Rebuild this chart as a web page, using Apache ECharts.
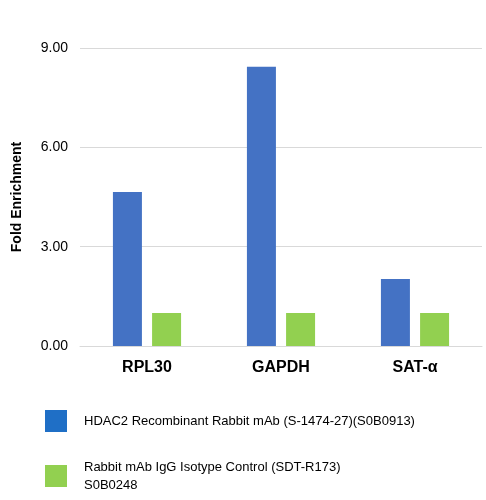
<!DOCTYPE html>
<html><head><meta charset="utf-8">
<script src="https://cdn.jsdelivr.net/npm/echarts@6/dist/echarts.min.js"></script>
<style>html,body{margin:0;background:#fff}#c{width:486px;height:500px}</style>
</head><body><div id="c"></div>
<script>
const categories = ['RPL30', 'GAPDH', 'SAT-α'];
const hdac2 = [4.65, 8.43, 2.02];
const igg = [1.0, 1.0, 1.0];
const seriesNames = ['HDAC2 Recombinant Rabbit mAb (S-1474-27)(S0B0913)', 'Rabbit mAb IgG Isotype Control (SDT-R173)\nS0B0248'];
const chart = echarts.init(document.getElementById('c'));
const legendText = {fontFamily: 'Liberation Sans, Arial', fontSize: 13, color: '#000', lineHeight: 18, padding: [0,0,0,12]};
chart.setOption({
  animation: false,
  grid: {left: 80, right: 4, top: 48, bottom: 154},
  legend: [
    {left: 40, top: 405, itemWidth: 22, itemHeight: 22, icon: 'rect', textStyle: legendText,
     data: [{name: seriesNames[0], itemStyle: {color: '#1f6fc6'}}]},
    {left: 40, top: 453, itemWidth: 22, itemHeight: 22, icon: 'rect', textStyle: legendText,
     data: [{name: seriesNames[1]}]}
  ],
  xAxis: {
    type: 'category', data: categories,
    axisLine: {lineStyle: {color: '#d9d9d9'}}, axisTick: {show: false},
    axisLabel: {fontFamily: 'Liberation Sans, Arial', fontSize: 16, fontWeight: 'bold', color: '#000', margin: 14}
  },
  yAxis: {
    type: 'value', min: 0, max: 9, interval: 3,
    name: 'Fold Enrichment', nameLocation: 'middle', nameGap: 56,
    nameTextStyle: {fontFamily: 'Liberation Sans, Arial', fontSize: 14, fontWeight: 'bold', color: '#000'},
    axisLabel: {formatter: v => v.toFixed(2), fontFamily: 'Liberation Sans, Arial', fontSize: 14, color: '#000', margin: 12},
    splitLine: {lineStyle: {color: '#d9d9d9'}}
  },
  series: [
    {name: seriesNames[0], type: 'bar', data: hdac2, barWidth: 29, barGap: '35%', itemStyle: {color: '#4472c4'}},
    {name: seriesNames[1], type: 'bar', data: igg, barWidth: 29, itemStyle: {color: '#92d050'}}
  ]
});
</script></body></html>
